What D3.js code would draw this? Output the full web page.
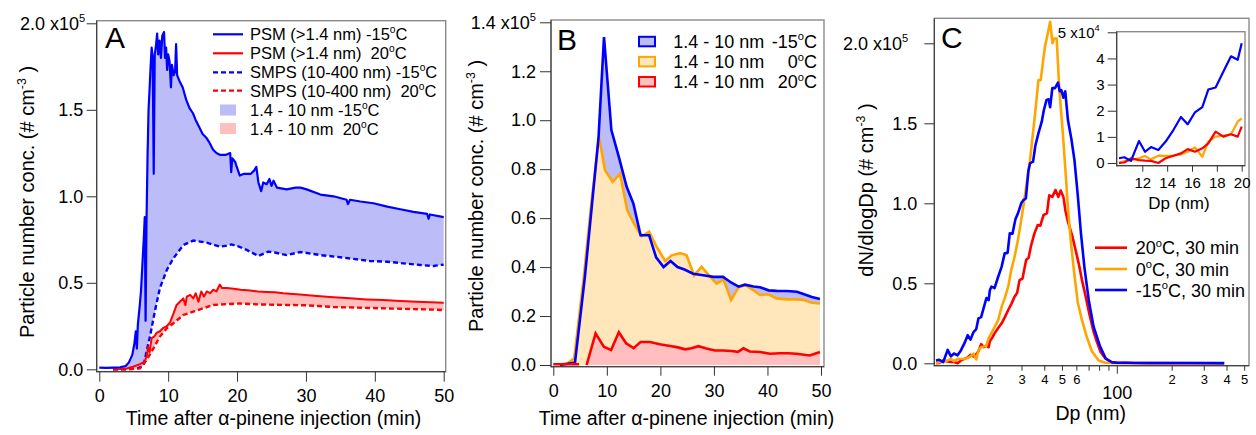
<!DOCTYPE html>
<html>
<head>
<meta charset="utf-8">
<script src="https://cdn.jsdelivr.net/npm/d3@7"></script>
<style>
  body { margin: 0; background: #fff; }
  svg text { font-family: "Liberation Sans", Arial, sans-serif; fill: #000; }
</style>
</head>
<body>
<svg id="chart" width="1256" height="435"></svg>
<script>
// ---- panel A : time (min) vs conc (x1e5 cm-3)
let psmCold = [[0,0.01],[1,0.008],[2,0.01],[3,0.012],[3.8,0.018],[4.3,0.04],[4.8,0.085],[5.1,0.15],[5.3,0.22],[5.45,0.12],[5.6,0.26],[5.85,0.36],[6.05,0.45],[6.25,0.6],[6.45,0.75],[6.6,0.88],[6.72,0.28],[6.85,0.85],[7.0,1.22],[7.15,1.5],[7.3,1.62],[7.45,1.75],[7.6,1.86],[7.75,1.8],[7.9,1.13],[8.05,1.82],[8.2,1.86],[8.4,1.94],[8.55,1.82],[8.75,1.9],[8.95,1.8],[9.15,1.93],[9.4,1.95],[9.55,1.8],[9.7,1.86],[9.85,1.73],[10.0,1.82],[10.2,1.78],[10.4,1.63],[10.55,1.76],[10.8,1.7],[11.0,1.72],[11.15,1.88],[11.3,1.7],[11.6,1.67],[12.1,1.63],[12.6,1.56],[13.1,1.51],[13.6,1.48],[14.0,1.44],[14.5,1.4],[15.0,1.36],[15.5,1.34],[16.0,1.31],[16.5,1.27],[17.0,1.25],[17.5,1.24],[18.4,1.24],[19.0,1.25],[19.15,1.14],[19.3,1.22],[19.7,1.2],[20.4,1.12],[21.0,1.13],[22.0,1.13],[22.5,1.15],[22.8,1.17],[23.1,1.08],[23.5,1.03],[23.8,1.08],[24.3,1.07],[24.7,1.1],[25.0,1.06],[25.3,1.09],[25.8,1.05],[27.2,1.04],[28.5,1.05],[29.2,1.05],[30.1,1.04],[32.1,1.01],[34.0,1.0],[35.9,0.98],[36.1,0.955],[36.4,0.98],[37.9,0.97],[39.8,0.96],[41.8,0.94],[43.7,0.925],[45.6,0.91],[47.6,0.898],[47.8,0.87],[48.0,0.895],[50,0.88]];
let psmWarm = [[2,0.0],[3,0.002],[4,0.005],[4.9,0.015],[5.9,0.03],[6.6,0.045],[6.9,0.08],[7.1,0.13],[7.3,0.1],[7.6,0.18],[8.0,0.19],[8.3,0.21],[8.8,0.22],[9.3,0.24],[9.8,0.25],[10.26,0.27],[10.75,0.32],[11.2,0.37],[11.7,0.39],[12.2,0.41],[12.5,0.37],[12.7,0.42],[13.2,0.43],[13.65,0.41],[14.0,0.44],[14.4,0.39],[14.8,0.45],[15.2,0.42],[15.6,0.45],[16.1,0.44],[16.55,0.46],[17.0,0.45],[17.5,0.49],[17.8,0.47],[18.5,0.47],[19.5,0.465],[20.5,0.46],[21.9,0.455],[23.0,0.45],[24.3,0.447],[25.5,0.445],[26.7,0.439],[29.1,0.433],[31.6,0.424],[34.0,0.416],[36.4,0.41],[38.8,0.404],[41.2,0.4],[43.7,0.395],[46.1,0.391],[50,0.385]];
let smpsCold = [[2,0],[4,0.0],[5.5,0.005],[6.4,0.02],[7.36,0.19],[8.09,0.34],[8.8,0.47],[9.8,0.574],[10.75,0.641],[12.2,0.718],[13.65,0.744],[15.6,0.732],[17.5,0.709],[18.5,0.715],[19.2,0.722],[20.2,0.71],[21.4,0.69],[23.1,0.655],[24.5,0.68],[25.5,0.675],[27.2,0.66],[29.2,0.678],[32.1,0.66],[34.5,0.65],[36.9,0.638],[39.3,0.626],[41.8,0.622],[44.7,0.61],[46.6,0.603],[48.5,0.597],[50,0.605]];
let smpsWarm = [[2,0],[4,0],[5.9,0.005],[6.88,0.054],[7.84,0.12],[8.8,0.189],[9.8,0.237],[10.75,0.266],[12.2,0.314],[13.65,0.333],[15.1,0.353],[16.55,0.372],[18.5,0.377],[20.4,0.38],[23.3,0.375],[27.2,0.372],[30.1,0.37],[34,0.36],[38.8,0.355],[43.7,0.35],[48.5,0.345],[50,0.342]];
let legendA = ["PSM (>1.4 nm) -15^{o}C", "PSM (>1.4 nm)  20^{o}C", "SMPS (10-400 nm) -15^{o}C", "SMPS (10-400 nm)  20^{o}C", "1.4 - 10 nm -15^{o}C", "1.4 - 10 nm  20^{o}C"];

// ---- panel B : 1.4-10 nm particles (x1e5 cm-3)
let nanoCold = [[1.25,0.0],[2.65,0.005],[4.05,0.01],[5.9,0.36],[7.2,0.65],[8.45,0.93],[9.47,1.34],[10.85,0.96],[12.3,0.845],[13.7,0.728],[14.95,0.66],[16.3,0.53],[17.9,0.53],[19.2,0.44],[20.6,0.40],[21.9,0.425],[23.2,0.40],[24.5,0.39],[26.1,0.373],[28.0,0.367],[29.9,0.36],[31.7,0.36],[33.2,0.337],[34.6,0.32],[35.8,0.328],[37.4,0.321],[38.6,0.318],[40.2,0.305],[41.7,0.303],[43.6,0.302],[45.5,0.299],[46.7,0.29],[48.3,0.278],[49.8,0.27]];
let nanoZero = [[1.25,0.003],[2.6,0.006],[3.9,0.027],[5.7,0.36],[7.1,0.66],[8.54,0.932],[9.66,0.796],[11.1,0.748],[12.46,0.782],[13.8,0.633],[15.07,0.578],[16.5,0.526],[17.9,0.544],[19.3,0.483],[20.9,0.425],[22.1,0.448],[23.7,0.457],[24.9,0.448],[26.3,0.366],[27.7,0.401],[29.2,0.363],[30.5,0.333],[31.8,0.35],[33.2,0.266],[34.6,0.317],[35.8,0.327],[37.4,0.306],[38.6,0.286],[40.2,0.289],[41.7,0.272],[43.6,0.268],[45.5,0.268],[46.7,0.266],[48.3,0.254],[49.8,0.251]];
let nanoWarm = [[0,0.003],[1.4,0.003],[3.3,0.003],[4.8,0.003],[5.5,null],[6.22,0.0],[7.9,0.129],[9.44,0.075],[10.8,0.061],[12.24,0.134],[13.6,0.089],[15.0,0.069],[16.3,0.094],[18.06,0.094],[19.9,0.085],[21.8,0.078],[23.3,0.072],[24.6,0.064],[25.8,0.068],[27.1,0.077],[28.6,0.067],[30.2,0.059],[31.7,0.059],[33.3,0.057],[34.5,0.054],[35.5,0.068],[36.7,0.055],[38.6,0.053],[40.5,0.046],[42.3,0.048],[43.9,0.048],[45.4,0.046],[47.9,0.039],[49.8,0.053]];
let legendB = [["1.4 - 10 nm", "-15^{o}C"], ["1.4 - 10 nm", "0^{o}C"], ["1.4 - 10 nm", "20^{o}C"]];

// ---- panel C : Dp (nm) vs dN/dlogDp (x1e5 cm-3)
let sizeWarm = [[10.12,0.0],[10.55,0.002],[11.09,0.018],[11.73,0.011],[12.22,0.009],[12.70,0.008],[13.29,0.0],[13.88,0.018],[14.5,0.028],[15.11,0.037],[15.65,0.053],[16.24,0.043],[16.83,0.056],[17.31,0.075],[17.9,0.12],[18.52,0.101],[19.14,0.11],[19.68,0.101],[20.0,0.139],[20.6,0.16],[21.2,0.187],[22.2,0.22],[23.2,0.25],[24.2,0.29],[25.2,0.333],[26.2,0.37],[27.3,0.416],[28.2,0.44],[29.1,0.52],[30.2,0.53],[31.6,0.646],[32.6,0.66],[33.7,0.739],[35.1,0.812],[36.6,0.864],[37.8,0.86],[39.4,0.927],[41.1,0.937],[42.3,1.05],[44,1.04],[45.8,1.083],[47.5,1.04],[48.9,1.08],[50.6,1.04],[52,0.95],[53.6,0.885],[56.5,0.8],[59,0.71],[61.5,0.62],[64,0.52],[67,0.42],[70.5,0.3],[74,0.2],[77.5,0.13],[81,0.07],[86,0.03],[92,0.008],[100,0.003],[110,0.005],[125,0.002],[150,0.001],[386,0.0]];
let sizeZero = [[10.12,0.002],[10.55,0.006],[11.09,0.011],[11.73,0.018],[12.22,0.027],[12.70,0.014],[13.29,0.028],[13.88,0.027],[14.5,0.028],[15.11,0.033],[15.65,0.043],[16.24,0.06],[16.83,0.024],[17.31,0.082],[17.9,0.101],[18.52,0.105],[19.14,0.11],[19.68,0.158],[20.0,0.171],[20.8,0.208],[22.2,0.27],[23.2,0.354],[24.1,0.406],[25.2,0.479],[26.2,0.583],[27.3,0.666],[28.5,0.77],[29.7,0.896],[30.7,1.0],[31.6,1.1],[33.2,1.27],[34.6,1.458],[35.7,1.6],[36.9,1.77],[38.0,1.77],[39.2,1.896],[40.1,1.98],[41.5,2.06],[42.8,2.135],[44.1,2.0],[45.0,2.03],[46.5,2.03],[48,1.72],[50,1.47],[52,1.2],[53.5,0.98],[55.5,0.77],[57.8,0.58],[60.7,0.38],[64,0.27],[68,0.165],[72.5,0.075],[79,0.018],[86,0.003],[100,0.0],[386,0.0]];
let sizeCold = [[10.12,0.018],[10.55,0.022],[11.09,0.008],[11.73,0.084],[12.22,0.043],[12.70,0.061],[13.29,0.05],[13.88,0.082],[14.5,0.126],[15.11,0.176],[15.65,0.148],[16.24,0.194],[16.83,0.214],[17.31,0.281],[17.9,0.289],[18.52,0.349],[19.14,0.408],[19.68,0.395],[20.0,0.458],[20.4,0.479],[21.2,0.47],[22.2,0.541],[23.2,0.604],[24.1,0.687],[25.0,0.69],[25.7,0.812],[26.6,0.81],[27.6,0.9],[28.5,0.937],[29.7,1.0],[30.5,1.02],[31.5,1.03],[32.5,1.2],[33.2,1.25],[34.5,1.26],[35.5,1.36],[36.9,1.437],[38.5,1.51],[39.5,1.58],[40.9,1.646],[42.0,1.65],[42.8,1.6],[44.0,1.72],[45.5,1.72],[47.3,1.754],[48.3,1.7],[49.3,1.708],[50.6,1.66],[51.8,1.7],[53.6,1.52],[56,1.4],[58.2,1.27],[60.7,1.05],[63.2,0.81],[66,0.6],[69.7,0.396],[74.1,0.229],[80.5,0.104],[86.4,0.03],[93.7,0.006],[100,0.003],[150,0.002],[250,0.0015],[386,0.001]];
let legendC = ["20^{o}C, 30 min", "0^{o}C, 30 min", "-15^{o}C, 30 min"];

// tick values
let ticksTime = [0, 10, 20, 30, 40, 50];
let ticksA = [0, 0.5, 1.0, 1.5, 2.0];
let ticksB = [0, 0.2, 0.4, 0.6, 0.8, 1.0, 1.2, 1.4];
let ticksC = [0, 0.5, 1.0, 1.5, 2.0];
let ticksDpMinor = [20, 30, 40, 50, 60, 70, 80, 90, 200, 300, 400, 500];
let ticksDpLabel = [20, 30, 40, 50, 60, 200, 300, 400, 500];
let ticksInsetX = [12, 14, 16, 18, 20];
let ticksInsetY = [0, 1, 2, 3, 4, 5];

let blue = "#0000ff", red = "#ff0000", orange = "#ffa500";
let blueFill = "#bcbcf8", redFill = "#ffbfbf", orangeFill = "#ffe6bb";
let fontFam = '"Liberation Sans", Arial, sans-serif';

let svg = d3.select("#chart");

// write text with ^{...} superscripts
function rich(sel, str, fs) {
  let parts = str.split(/(\^\{[^}]*\})/).filter(function (p) { return p.length; });
  let up = false;
  parts.forEach(function (p) {
    if (p.indexOf("^{") === 0) {
      sel.append("tspan").attr("font-size", fs * 0.62).attr("dy", -fs * 0.42).text(p.slice(2, -1));
      up = true;
    } else {
      sel.append("tspan").attr("dy", up ? fs * 0.42 : null).text(p);
      up = false;
    }
  });
  return sel;
}

function frame(f, clipId) {
  svg.append("clipPath").attr("id", clipId).append("rect")
    .attr("x", f.x0).attr("y", f.y0).attr("width", f.x1 - f.x0).attr("height", f.y1 - f.y0);
  svg.append("rect").attr("x", f.x0).attr("y", f.y0).attr("width", f.x1 - f.x0).attr("height", f.y1 - f.y0)
    .attr("fill", "none").attr("stroke", "#8a8a8a").attr("stroke-width", 1.4);
}

function axisLines(f) {
  svg.append("line").attr("x1", f.x0).attr("x2", f.x0).attr("y1", f.y0).attr("y2", f.y1 + 0.5).attr("stroke", "#333");
  svg.append("line").attr("x1", f.x0).attr("x2", f.x1).attr("y1", f.y1).attr("y2", f.y1).attr("stroke", "#333");
}

function leftAxis(scale, f, ticks, size, pad, fs, topText, topDx) {
  let g = svg.append("g").attr("transform", "translate(" + f.x0 + ",0)")
    .call(d3.axisLeft(scale).tickValues(ticks).tickFormat(d3.format(".1f")).tickSize(size).tickPadding(pad));
  g.select(".domain").remove();
  g.attr("font-size", fs).attr("font-family", fontFam);
  g.selectAll("line").attr("stroke", "#333");
  g.selectAll("text").attr("fill", "#000");
  let top = g.selectAll("text").filter(function (d) { return d === ticks[ticks.length - 1]; });
  top.text("").attr("dx", topDx || 0).style("white-space", "pre");
  rich(top, topText, fs);
  return g;
}

function bottomAxis(scale, f, ticks, size, pad, fs) {
  let g = svg.append("g").attr("transform", "translate(0," + f.y1 + ")")
    .call(d3.axisBottom(scale).tickValues(ticks).tickFormat(d3.format("d")).tickSize(size).tickPadding(pad));
  g.select(".domain").remove();
  g.attr("font-size", fs).attr("font-family", fontFam);
  g.selectAll("line").attr("stroke", "#333");
  g.selectAll("text").attr("fill", "#000");
  return g;
}

function yTitle(x, y, str, fs) {
  let t = svg.append("text").attr("transform", "translate(" + x + "," + y + ") rotate(-90)")
    .attr("text-anchor", "middle").attr("font-size", fs).style("white-space", "pre");
  rich(t, str, fs);
}

function xTitle(x, y, str, fs) {
  svg.append("text").attr("x", x).attr("y", y).attr("text-anchor", "middle").attr("font-size", fs).text(str);
}

// =================== Panel A ===================
let fA = { x0: 96.7, x1: 445.7, y0: 20.7, y1: 371.7 };
let xA = d3.scaleLinear().domain([0, 50]).range([99.3, 443.7]);
let yA = d3.scaleLinear().domain([0, 2]).range([369.3, 23.3]);
frame(fA, "clipA");

let lineA = d3.line().x(function (d) { return xA(d[0]); }).y(function (d) { return yA(d[1]); });
let plotA = svg.append("g").attr("clip-path", "url(#clipA)");

// shaded 1.4-10 nm bands between PSM and SMPS
plotA.append("path").attr("d", lineA(psmCold.concat(smpsCold.slice().reverse())) + "Z").attr("fill", blueFill);
plotA.append("path").attr("d", lineA(psmWarm.concat(smpsWarm.slice().reverse())) + "Z").attr("fill", redFill);

plotA.append("path").attr("d", lineA(smpsCold)).attr("fill", "none").attr("stroke", blue).attr("stroke-width", 2.4).attr("stroke-dasharray", "5,3");
plotA.append("path").attr("d", lineA(smpsWarm)).attr("fill", "none").attr("stroke", red).attr("stroke-width", 2.4).attr("stroke-dasharray", "5,3");
plotA.append("path").attr("d", lineA(psmWarm)).attr("fill", "none").attr("stroke", red).attr("stroke-width", 2).attr("stroke-linejoin", "round");
plotA.append("path").attr("d", lineA(psmCold)).attr("fill", "none").attr("stroke", blue).attr("stroke-width", 2.2).attr("stroke-linejoin", "round");

axisLines(fA);
leftAxis(yA, fA, ticksA, 10, 3.5, 18, "2.0 x10^{5}", 2);
bottomAxis(xA, fA, ticksTime, 10, 8, 18);
yTitle(34, 202, "Particle number conc. (# cm^{-3} )", 20);
xTitle(273.5, 425, "Time after \u03b1-pinene injection (min)", 19.5);
svg.append("text").attr("x", 105).attr("y", 48).attr("font-size", 30).text("A");

// legend A
let legStyleA = [
  { c: blue, dash: null, fill: null }, { c: red, dash: null, fill: null },
  { c: blue, dash: "5,3", fill: null }, { c: red, dash: "5,3", fill: null },
  { c: null, dash: null, fill: blueFill }, { c: null, dash: null, fill: redFill }
];
let legRowsA = [34.3, 53.3, 72.3, 90.7, 110, 128.5];
legendA.forEach(function (lab, i) {
  let s = legStyleA[i], yy = legRowsA[i];
  if (s.fill) {
    svg.append("rect").attr("x", 220).attr("y", yy - 5.5).attr("width", 16).attr("height", 11).attr("fill", s.fill);
  } else {
    svg.append("line").attr("x1", 213).attr("x2", 243).attr("y1", yy).attr("y2", yy)
      .attr("stroke", s.c).attr("stroke-width", 2.2).attr("stroke-dasharray", s.dash);
  }
  let t = svg.append("text").attr("x", 250).attr("y", yy + 6).attr("font-size", 16.5).style("white-space", "pre");
  rich(t, lab, 16.5);
});

// =================== Panel B ===================
let fB = { x0: 551, x1: 824, y0: 20, y1: 366.7 };
let xB = d3.scaleLinear().domain([0, 50]).range([553.3, 821]);
let yB = d3.scaleLinear().domain([0, 1.4]).range([365, 22.3]);
frame(fB, "clipB");

let defined = function (d) { return d[1] !== null; };
let areaB = d3.area().defined(defined).x(function (d) { return xB(d[0]); }).y0(yB(0)).y1(function (d) { return yB(d[1]); });
let lineB = d3.line().defined(defined).x(function (d) { return xB(d[0]); }).y(function (d) { return yB(d[1]); });
let plotB = svg.append("g").attr("clip-path", "url(#clipB)");

plotB.append("path").attr("d", areaB(nanoCold)).attr("fill", blueFill);
plotB.append("path").attr("d", areaB(nanoZero)).attr("fill", orangeFill);
plotB.append("path").attr("d", areaB(nanoWarm)).attr("fill", redFill);
plotB.append("path").attr("d", lineB(nanoZero)).attr("fill", "none").attr("stroke", orange).attr("stroke-width", 2.6);
plotB.append("path").attr("d", lineB(nanoCold)).attr("fill", "none").attr("stroke", blue).attr("stroke-width", 2.6);
plotB.append("path").attr("d", lineB(nanoWarm)).attr("fill", "none").attr("stroke", red).attr("stroke-width", 2.6);

axisLines(fB);
leftAxis(yB, fB, ticksB, 11, 4, 18, "1.4 x10^{5}", 0);
bottomAxis(xB, fB, ticksTime, 9, 9, 18);
yTitle(483, 196, "Particle number conc. (# cm^{-3} )", 20);
xTitle(686.5, 425, "Time after \u03b1-pinene injection (min)", 19.5);
svg.append("text").attr("x", 557).attr("y", 50).attr("font-size", 30).text("B");

// legend B
let legColB = [[blue, blueFill], [orange, orangeFill], [red, redFill]];
let legRowsB = [41.5, 61.6, 81.7];
legendB.forEach(function (lab, i) {
  let yy = legRowsB[i];
  svg.append("rect").attr("x", 639).attr("y", yy - 4.7).attr("width", 16).attr("height", 9.5)
    .attr("fill", legColB[i][1]).attr("stroke", legColB[i][0]).attr("stroke-width", 2);
  svg.append("text").attr("x", 673.3).attr("y", yy + 6.5).attr("font-size", 18).text(lab[0]);
  let t = svg.append("text").attr("x", 817).attr("y", yy + 6.5).attr("font-size", 18).attr("text-anchor", "end");
  rich(t, lab[1], 18);
});

// =================== Panel C ===================
let fC = { x0: 934.3, x1: 1249, y0: 18.3, y1: 365.7 };
let xC = d3.scaleLog().domain([10.12, 100]).range([936, 1117.3]);
let yC = d3.scaleLinear().domain([0, 2]).range([363.3, 43.3]);
frame(fC, "clipC");

let lineC = d3.line().x(function (d) { return xC(d[0]); }).y(function (d) { return yC(d[1]); });
let plotC = svg.append("g").attr("clip-path", "url(#clipC)");
let seriesC = [[sizeWarm, red], [sizeZero, orange], [sizeCold, blue]];
seriesC.forEach(function (s) {
  plotC.append("path").attr("d", lineC(s[0])).attr("fill", "none").attr("stroke", s[1]).attr("stroke-width", 2.6).attr("stroke-linejoin", "round");
});

axisLines(fC);
leftAxis(yC, fC, ticksC, 10, 7, 18, "2.0 x10^{5}", -9);

// log x axis: minor ticks with small digits, major at 100
let gx = svg.append("g");
gx.selectAll("line.minor").data(ticksDpMinor).enter().append("line")
  .attr("x1", function (d) { return xC(d); }).attr("x2", function (d) { return xC(d); })
  .attr("y1", fC.y1).attr("y2", fC.y1 + 5).attr("stroke", "#333");
gx.append("line").attr("x1", xC(100)).attr("x2", xC(100)).attr("y1", fC.y1).attr("y2", fC.y1 + 8).attr("stroke", "#333");
gx.selectAll("text.minor").data(ticksDpLabel).enter().append("text")
  .attr("x", function (d) { return xC(d); }).attr("y", 384).attr("text-anchor", "middle").attr("font-size", 13)
  .text(function (d) { return String(d).charAt(0); });
gx.append("text").attr("x", xC(100)).attr("y", 398.5).attr("text-anchor", "middle").attr("font-size", 18).text("100");

yTitle(873, 190, "dN/dlogDp (# cm^{-3} )", 20);
xTitle(1090.7, 419.5, "Dp (nm)", 19.5);
svg.append("text").attr("x", 941).attr("y", 48.3).attr("font-size", 30).text("C");

// legend C
let legRowsC = [247.7, 269, 290];
legendC.forEach(function (lab, i) {
  let yy = legRowsC[i];
  svg.append("line").attr("x1", 1095).attr("x2", 1127).attr("y1", yy).attr("y2", yy).attr("stroke", seriesC[i][1]).attr("stroke-width", 2.6);
  let t = svg.append("text").attr("x", 1135.7).attr("y", yy + 6.5).attr("font-size", 18);
  rich(t, lab, 18);
});

// inset: same size distributions, 10-20 nm, linear axes (x1e4)
let fI = { x0: 1116.7, x1: 1245, y0: 31.7, y1: 165.7 };
let xI = d3.scaleLinear().domain([12, 20]).range([1142.3, 1241.7]);
let yI = d3.scaleLinear().domain([0, 5]).range([163, 32.3]);
svg.append("rect").attr("x", fI.x0).attr("y", fI.y0).attr("width", fI.x1 - fI.x0).attr("height", fI.y1 - fI.y0).attr("fill", "#fff");
frame(fI, "clipI");
let lineI = d3.line().x(function (d) { return xI(d[0]); }).y(function (d) { return yI(d[1] * 10); });
let plotI = svg.append("g").attr("clip-path", "url(#clipI)");
[[sizeZero, orange], [sizeWarm, red], [sizeCold, blue]].forEach(function (s) {
  let part = s[0].filter(function (d) { return d[0] <= 20.3; });
  plotI.append("path").attr("d", lineI(part)).attr("fill", "none").attr("stroke", s[1]).attr("stroke-width", 2.2).attr("stroke-linejoin", "round");
});
axisLines(fI);
let gIy = svg.append("g").attr("transform", "translate(" + fI.x0 + ",0)")
  .call(d3.axisLeft(yI).tickValues(ticksInsetY).tickFormat(d3.format("d")).tickSize(9).tickPadding(3));
gIy.select(".domain").remove();
gIy.attr("font-size", 15).attr("font-family", fontFam);
gIy.selectAll("line").attr("stroke", "#333");
gIy.selectAll("text").attr("fill", "#000");
let topI = gIy.selectAll("text").filter(function (d) { return d === 5; });
topI.text("").attr("dx", -5);
rich(topI, "5 x10^{4}", 15);
bottomAxis(xI, fI, ticksInsetX, 6, 5.5, 15);
xTitle(1179, 209, "Dp (nm)", 17);
</script>
</body>
</html>
